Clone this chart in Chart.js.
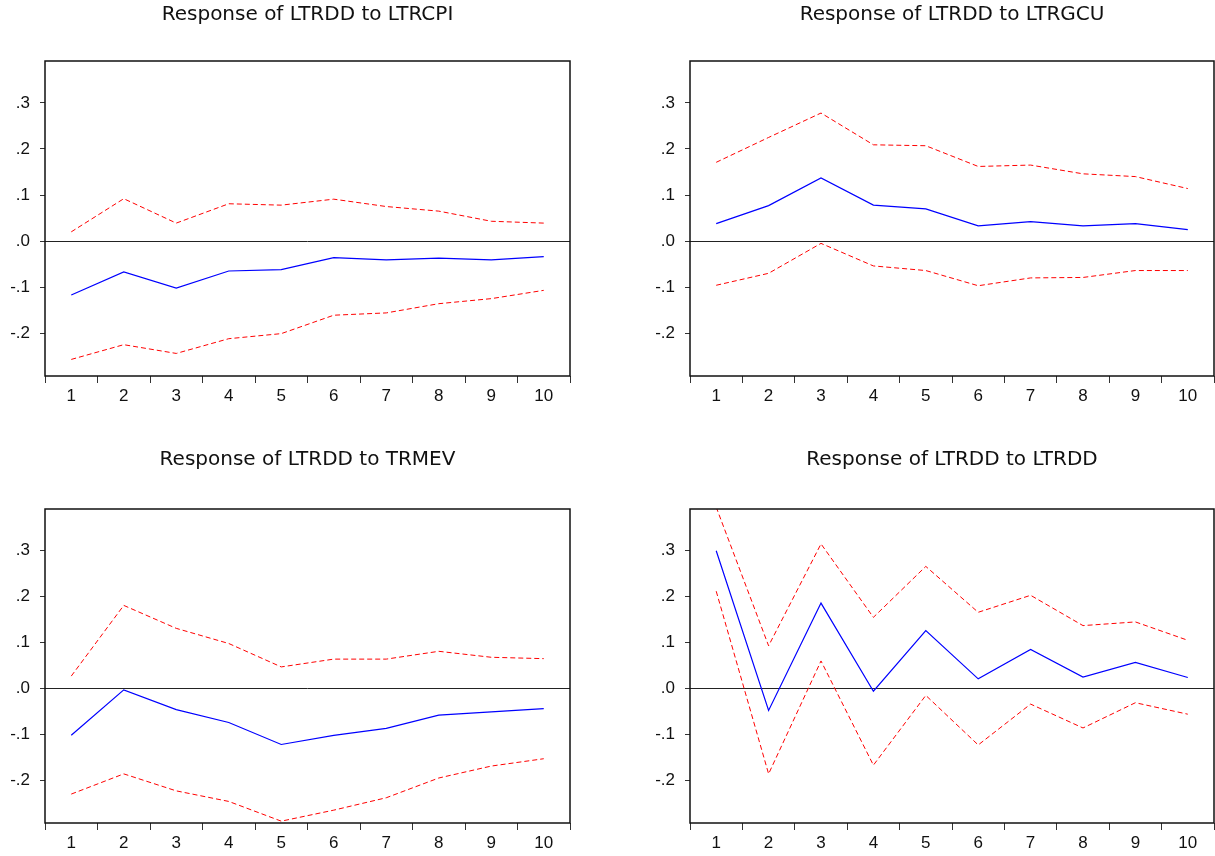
<!DOCTYPE html>
<html>
<head>
<meta charset="utf-8">
<script src="https://cdn.jsdelivr.net/npm/chart.js@4.4.0/dist/chart.umd.min.js"></script>
<style>
  body { margin: 0; background: #fff; width: 1215px; height: 856px; overflow: hidden; position: relative; }
  .panel { position: absolute; }
</style>
</head>
<body>
<div class="panel" style="left:0;top:0;width:615px;height:420px"><canvas id="c1"></canvas></div>
<div class="panel" style="left:645px;top:0;width:570px;height:420px"><canvas id="c2"></canvas></div>
<div class="panel" style="left:0;top:445px;width:615px;height:411px"><canvas id="c3"></canvas></div>
<div class="panel" style="left:645px;top:445px;width:570px;height:411px"><canvas id="c4"></canvas></div>
<script>
const periods = ['1', '2', '3', '4', '5', '6', '7', '8', '9', '10'];
const yTicks = [-0.2, -0.1, 0, 0.1, 0.2, 0.3];
const yTickLabels = ['-.2', '-.1', '.0', '.1', '.2', '.3'];

// Response of LTRDD to LTRCPI
const cpiResp  = [-0.117, -0.067, -0.102, -0.065, -0.062, -0.036, -0.041, -0.037, -0.041, -0.034];
const cpiUpper = [0.020, 0.092, 0.039, 0.081, 0.078, 0.091, 0.075, 0.065, 0.043, 0.039];
const cpiLower = [-0.257, -0.225, -0.244, -0.212, -0.201, -0.161, -0.156, -0.136, -0.125, -0.107];

// Response of LTRDD to LTRGCU
const gcuResp  = [0.038, 0.077, 0.137, 0.078, 0.070, 0.033, 0.042, 0.033, 0.038, 0.025];
const gcuUpper = [0.171, 0.225, 0.278, 0.209, 0.207, 0.162, 0.165, 0.146, 0.140, 0.114];
const gcuLower = [-0.096, -0.070, -0.005, -0.054, -0.064, -0.097, -0.080, -0.079, -0.064, -0.064];

// Response of LTRDD to TRMEV
const mevResp  = [-0.102, -0.003, -0.046, -0.074, -0.122, -0.102, -0.087, -0.058, -0.051, -0.044];
const mevUpper = [0.027, 0.181, 0.131, 0.098, 0.047, 0.064, 0.064, 0.081, 0.068, 0.065];
const mevLower = [-0.230, -0.186, -0.223, -0.246, -0.289, -0.265, -0.238, -0.195, -0.169, -0.153];

// Response of LTRDD to LTRDD
const dddResp  = [0.300, -0.048, 0.186, -0.006, 0.126, 0.021, 0.085, 0.025, 0.057, 0.024];
const dddUpper = [0.395, 0.093, 0.315, 0.155, 0.266, 0.166, 0.203, 0.137, 0.145, 0.105];
const dddLower = [0.212, -0.186, 0.060, -0.167, -0.015, -0.123, -0.034, -0.086, -0.031, -0.056];

// box around the plot area
const frame = {
  id: 'frame',
  afterDraw(chart) {
    const a = chart.chartArea, ctx = chart.ctx;
    ctx.save();
    ctx.strokeStyle = '#111';
    ctx.lineWidth = 1.5;
    ctx.strokeRect(a.left, a.top, a.right - a.left, a.bottom - a.top);
    ctx.restore();
  }
};

function makeChart(id, title, resp, upper, lower, axisH, titleBottom) {
  const ctx = document.getElementById(id).getContext('2d');
  return new Chart(ctx, {
    type: 'line',
    data: {
      labels: periods,
      datasets: [
        { data: upper, borderColor: '#ff0000', borderWidth: 1, borderDash: [5, 3], pointRadius: 0, tension: 0 },
        { data: lower, borderColor: '#ff0000', borderWidth: 1, borderDash: [5, 3], pointRadius: 0, tension: 0 },
        { data: resp, borderColor: '#0000ff', borderWidth: 1.2, pointRadius: 0, tension: 0 }
      ]
    },
    options: {
      responsive: true,
      maintainAspectRatio: false,
      animation: false,
      events: [],
      layout: { padding: { left: 0, right: id === 'c1' || id === 'c3' ? 45 : 1, top: 0, bottom: 0 } },
      plugins: {
        legend: { display: false },
        tooltip: { enabled: false },
        title: {
          display: true,
          text: title,
          fullSize: false,
          color: '#111',
          font: { family: 'DejaVu Sans, sans-serif', size: 20, weight: 'normal' },
          padding: { top: 3, bottom: titleBottom }
        }
      },
      scales: {
        x: {
          type: 'category',
          offset: true,
          afterFit: function (scale) { scale.height = axisH; },
          grid: { offset: true, drawOnChartArea: false, drawTicks: true, tickLength: 7, tickColor: '#333' },
          border: { display: false },
          ticks: { color: '#111', padding: 3, maxRotation: 0, font: { family: 'Liberation Sans, Arial, sans-serif', size: 17 } }
        },
        y: {
          min: -0.293,
          max: 0.391,
          afterFit: function (scale) { scale.width = 45; },
          afterBuildTicks: function (scale) { scale.ticks = yTicks.map(v => ({ value: v })); },
          grid: {
            drawTicks: true,
            tickLength: 5,
            tickColor: '#333',
            lineWidth: 1,
            color: function (c) { return c.tick && c.tick.value === 0 ? '#222' : 'rgba(0,0,0,0)'; }
          },
          border: { display: false },
          ticks: {
            color: '#111',
            padding: 10,
            font: { family: 'Liberation Sans, Arial, sans-serif', size: 17 },
            callback: function (value, index) { return yTickLabels[index]; }
          }
        }
      }
    },
    plugins: [frame]
  });
}

makeChart('c1', 'Response of LTRDD to LTRCPI', cpiResp, cpiUpper, cpiLower, 44, 34);
makeChart('c2', 'Response of LTRDD to LTRGCU', gcuResp, gcuUpper, gcuLower, 44, 34);
makeChart('c3', 'Response of LTRDD to TRMEV', mevResp, mevUpper, mevLower, 33, 37);
makeChart('c4', 'Response of LTRDD to LTRDD', dddResp, dddUpper, dddLower, 33, 37);
</script>
</body>
</html>
